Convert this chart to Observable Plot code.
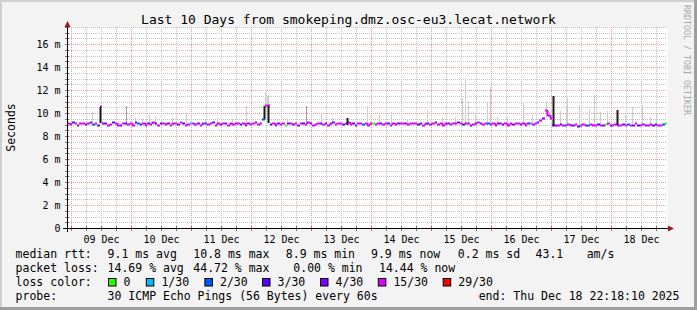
<!DOCTYPE html>
<html><head><meta charset="utf-8">
<script src="https://cdn.jsdelivr.net/npm/d3@7"></script>
<script src="https://cdn.jsdelivr.net/npm/@observablehq/plot@0.6"></script>
<style>
html,body{margin:0;padding:0;background:#f3f3f3;}
#chart svg{display:block;}
</style></head><body><div id="chart"></div>
<script>
// ---------- data ----------
const title = "Last 10 Days from smokeping.dmz.osc-eu3.lecat.network";
const yLabel = "Seconds";
const credit = "RRDTOOL / TOBI OETIKER";
const startTime = Date.UTC(2025, 11, 8, 22, 18, 10);
const endTime = Date.UTC(2025, 11, 18, 22, 18, 10);
const yTicks = [0, 2, 4, 6, 8, 10, 12, 14, 16];
const dayLabels = ["09 Dec","10 Dec","11 Dec","12 Dec","13 Dec","14 Dec","15 Dec","16 Dec","17 Dec","18 Dec"];

// hourly median rtt (ms)
const median = [
  9.15, 9.05, 9.2, 9.1, 9.0, 9.1, 9.15, 9.05, 9.1, 9.2,
  9.05, 9.1, 9.0, 10.6, 9.1, 9.15, 9.0, 9.05, 9.2, 9.1,
  9.0, 8.95, 9.1, 9.15, 9.05, 9.1, 9.0, 9.2, 9.1, 9.05,
  9.15, 9.0, 9.1, 9.05, 9.2, 9.1, 9.0, 9.1, 9.15, 9.05,
  9.1, 9.0, 9.15, 9.1, 9.05, 9.2, 9.1, 9.0, 9.05, 9.1,
  9.15, 9.05, 9.1, 9.0, 9.1, 9.15, 9.05, 9.1, 9.2, 9.0,
  9.1, 9.05, 9.15, 9.1, 9.0, 9.1, 9.05, 9.15, 9.1, 9.05,
  9.1, 9.0, 9.15, 9.05, 9.1, 9.2, 9.05, 9.1, 9.5, 10.7,
  10.7, 9.05, 9.1, 9.0, 9.15, 9.05, 9.1, 9.0, 9.1, 9.15,
  9.05, 9.1, 9.0, 9.15, 9.1, 9.05, 9.2, 9.1, 9.0, 9.05,
  9.1, 9.15, 9.05, 9.1, 9.0, 9.1, 9.2, 9.05, 9.1, 9.15,
  9.05, 9.1, 9.2, 9.05, 9.1, 9.0, 9.1, 9.15, 9.05, 9.1,
  9.0, 9.1, 9.15, 9.05, 9.1, 9.1, 9.05, 9.15, 9.1, 9.0,
  9.1, 9.05, 9.1, 9.15, 9.1, 9.1, 9.05, 9.1, 9.15, 9.1,
  9.05, 9.1, 9.0, 9.1, 9.15, 9.05, 9.1, 9.2, 9.05, 9.1,
  9.0, 9.1, 9.15, 9.05, 9.1, 9.15, 9.2, 9.1, 9.05, 9.15,
  9.1, 9.0, 9.05, 9.1, 9.2, 9.1, 9.05, 9.1, 9.15, 9.05,
  9.1, 9.0, 9.1, 9.15, 9.05, 9.1, 9.0, 9.1, 9.05, 9.15,
  9.1, 9.05, 9.1, 9.0, 9.15, 9.1, 9.05, 9.15, 9.2, 9.4,
  9.6, 10.3, 9.8, 9.6, 9.0, 8.95, 9.0, 9.05, 8.95, 9.0,
  9.05, 8.95, 9.0, 9.05, 8.9, 9.0, 9.05, 8.95, 9.0, 9.05,
  8.95, 9.0, 9.05, 8.95, 9.0, 9.05, 9.1, 8.95, 9.0, 9.05,
  9.0, 8.95, 9.05, 9.0, 9.05, 8.95, 9.0, 9.1, 9.0, 8.95,
  9.05, 9.0, 8.95, 9.05, 9.0, 9.05, 8.95, 9.0, 9.05, 9.1
];
// hourly loss level code: 0,1,2,3,4 -> n/30, 5 -> 15/30, 9 -> 29/30
const lossCodes = [
  "5535455453","2545445535","5453555424","5545535455","4555453551","5545525545",
  "5354555453","5545545525","5355455045","5545355455","5453554555","4555345525",
  "5505545535","5545545555","3355455455","5545554535","5354545525","5545355545",
  "5455415545","4555345452","5545355425","5535405455","5545254535","5455345520"
].join("");
const lossKeys = ["0","1","2","3","4","5","9"];
const lossNames = ["0","1/30","2/30","3/30","4/30","15/30","29/30"];
const lossColors = ["#26ff00","#00b8ff","#0059ff","#5e00ff","#7e00ff","#dd00ff","#ff0000"];

// smoke (ping spread): hour offset from start, low, high (ms), shade l/m/d
const smokeHour = [10, 23.7, 27, 30, 32.8, 35, 37.5, 42, 47.6, 55, 60, 66, 71.6, 79.2, 79.8, 80.4,
  13.2, 78.9, 80.5, 88, 95.6, 101.6, 106, 112, 119.9, 124.8, 129.6, 136, 143.9, 150, 155,
  158, 159.2, 160.4, 163, 167.9, 169.1, 172, 176, 182.4, 186, 191.5, 194.4, 197, 199.5, 200,
  204.8, 208.8, 210.8, 213, 215.9, 220, 223, 226, 230, 233, 235.5];
const smokeLo = [9.0, 9.0, 9.0, 9.0, 9.0, 9.0, 9.0, 9.0, 9.0, 9.0, 9.0, 9.0, 9.0, 10.6, 10.6, 10.6,
  9.1, 9.5, 9.1, 9.0, 9.0, 9.0, 9.0, 9.0, 9.0, 9.0, 9.0, 9.0, 9.0, 9.0, 9.0,
  9.0, 9.0, 9.0, 9.0, 9.0, 9.0, 9.0, 9.0, 9.0, 9.0, 9.6, 9.0, 9.0, 9.0, 9.0,
  9.0, 9.0, 9.0, 9.0, 9.0, 9.0, 9.0, 9.0, 9.0, 9.0, 9.0];
const smokeHi = [10.1, 10.65, 9.6, 9.5, 9.8, 9.7, 9.5, 9.6, 10.0, 9.5, 9.6, 9.5, 10.6, 11.8, 11.4, 11.6,
  10.5, 10.6, 10.6, 9.6, 10.65, 10.0, 9.6, 9.6, 10.6, 9.8, 10.1, 9.5, 10.3, 9.6, 9.7,
  11.3, 13.1, 11.1, 9.8, 11.0, 12.3, 9.7, 9.7, 11.0, 9.8, 11.0, 11.5, 10.2, 10.7, 11.3,
  10.65, 10.3, 11.6, 10.1, 10.2, 10.3, 9.8, 10.5, 10.7, 9.7, 9.9];
const smokeShade = "lmllllllllllllllddd" + "lmlldllllllll" + "lllllllllldllll" + "lllldllllll";

// legend texts
const rttStats = ["median rtt:", "9.1 ms avg", "10.8 ms max", "8.9 ms min", "9.9 ms now", "0.2 ms sd", "43.1", "am/s"];
const lossStats = ["packet loss:", "14.69 % avg", "44.72 % max", "0.00 % min", "14.44 % now"];
const lossTitle = "loss color:";
const probeTexts = ["probe:", "30 ICMP Echo Pings (56 Bytes) every 60s", "end: Thu Dec 18 22:18:10 2025"];

// ---------- build ----------
const HOUR = 3600e3;
const shadeColor = {l: "#cdcdcd", m: "#a0a0a0", d: "#1a1a1a"};
const segs = median.map((v, i) => ({
  t0: new Date(startTime + i * HOUR), t1: new Date(startTime + (i + 1) * HOUR), v,
  c: lossColors[lossKeys.indexOf(lossCodes[i])]
}));
const conns = segs.slice(1).map((s, k) => ({...s, prev: median[k], same: lossCodes[k] === lossCodes[k + 1]})).filter(d => d.same);
const smoke = smokeHour.map((h, i) => ({t: new Date(startTime + h * HOUR), lo: smokeLo[i], hi: smokeHi[i], c: shadeColor[smokeShade[i]], w: smokeShade[i] === "d" ? 2 : 1}));
const smokeLight = smoke.filter((d, i) => smokeShade[i] !== "d");
const smokeDark = smoke.filter((d, i) => smokeShade[i] === "d");

const domain = [new Date(startTime), new Date(endTime)];
const days = d3.utcDay.range(domain[0], domain[1]);
const sixHours = d3.utcHour.every(6).range(domain[0], domain[1]).filter(d => d.getUTCHours() !== 0);
const noons = days.map(d => d3.utcHour.offset(d, 12));
const minorY = d3.range(0.5, 17.51, 0.5).filter(v => v % 2 !== 0);
const majorY = yTicks.filter(v => v > 0);

const plot = Plot.plot({
  width: 697, height: 310,
  marginLeft: 67, marginRight: 30, marginTop: 27, marginBottom: 82,
  style: {background: "transparent", fontFamily: "DejaVu Sans Mono", fontSize: "10px", color: "#000", overflow: "visible"},
  x: {type: "utc", domain, round: true},
  y: {domain: [0, 17.5], round: true},
  marks: [
    Plot.frame({fill: "#ffffff", stroke: "none"}),
    Plot.ruleY(minorY, {stroke: "#c4c4c4", strokeDasharray: "1,1"}),
    Plot.ruleX(sixHours, {stroke: "#c4c4c4", strokeDasharray: "1,1"}),
    Plot.ruleY(majorY, {stroke: "#f09a9a", strokeDasharray: "1,1"}),
    Plot.ruleX(days, {stroke: "#f09a9a", strokeDasharray: "1,1"}),
    Plot.ruleX(smokeLight, {x: "t", y1: "lo", y2: "hi", stroke: "c", strokeWidth: "w"}),
    Plot.ruleY(segs, {x1: "t0", x2: "t1", y: "v", stroke: "c", strokeWidth: 2}),
    Plot.ruleX(conns, {x: "t0", y1: "prev", y2: "v", stroke: "c", strokeWidth: 2}),
    Plot.ruleX(smokeDark, {x: "t", y1: "lo", y2: "hi", stroke: "c", strokeWidth: "w"}),
    Plot.axisY({ticks: yTicks, tickSize: 0, tickPadding: 7, label: null,
      tickFormat: d => d === 0 ? "0" : `${d} m`}),
    Plot.axisX({ticks: noons, tickSize: 0, tickPadding: 7, label: null,
      tickFormat: (d, i) => dayLabels[i]})
  ]
});
document.getElementById("chart").appendChild(plot);

const xs = plot.scale("x"), ys = plot.scale("y");
const svg = d3.select(plot);
const X0 = xs.apply(domain[0]), X1 = xs.apply(domain[1]);
const Y0 = ys.apply(0), YT = ys.apply(17.5);

// tick marks on axes
const g = svg.append("g").attr("shape-rendering", "crispEdges");
for (const v of minorY.concat(majorY)) {
  const yy = ys.apply(v) + 0.5;
  g.append("line").attr("x1", X0 - 2).attr("x2", X0 + 2).attr("y1", yy).attr("y2", yy)
    .attr("stroke", majorY.includes(v) ? "#d06060" : "#777");
}
for (const d of sixHours.concat(days)) {
  const xx = xs.apply(d) + 0.5;
  g.append("line").attr("x1", xx).attr("x2", xx).attr("y1", Y0 - 2).attr("y2", Y0 + 3)
    .attr("stroke", days.includes(d) ? "#d06060" : "#777");
}
// axis lines
g.append("line").attr("x1", X0 - 4).attr("x2", X1 + 2).attr("y1", Y0 + 0.5).attr("y2", Y0 + 0.5).attr("stroke", "#000");
g.append("line").attr("x1", X0 + 0.5).attr("x2", X0 + 0.5).attr("y1", Y0 + 4).attr("y2", YT - 2).attr("stroke", "#000");
// arrows
svg.append("path").attr("d", `M${X1 + 1},${Y0 - 2.5}L${X1 + 7},${Y0 + 0.5}L${X1 + 1},${Y0 + 3.5}Z`).attr("fill", "#9b1c1c");
svg.append("path").attr("d", `M${X0 - 2.5},${YT}L${X0 + 0.5},${YT - 6}L${X0 + 3.5},${YT}Z`).attr("fill", "#9b1c1c");

const mono = "DejaVu Sans Mono";
// title
svg.append("text").attr("x", 348.5).attr("y", 23.5).attr("text-anchor", "middle")
  .attr("font-family", mono).attr("font-size", 13).attr("fill", "#000").text(title);
// y label
svg.append("text").attr("transform", "translate(15,127.5) rotate(-90)").attr("text-anchor", "middle")
  .attr("font-family", mono).attr("font-size", 11.5).attr("fill", "#000").text(yLabel);
// credit
svg.append("text").attr("transform", "translate(683.5,5) rotate(90)").attr("text-anchor", "start")
  .attr("font-family", mono).attr("font-size", 8.3).attr("fill", "#a8a8a8").text(credit);

// legend
const leg = svg.append("g").attr("font-family", mono).attr("font-size", 11.5).attr("fill", "#000").attr("text-anchor", "start");
const put = (x, y, s) => leg.append("text").attr("x", x).attr("y", y).attr("text-anchor", "start").style("white-space", "pre").text(s);
[15.6, 107.6, 193.3, 285.8, 371, 457.8, 535.6, 586.7].forEach((x, i) => put(x, 258, rttStats[i]));
[15.6, 107.6, 193.3, 293.3, 379].forEach((x, i) => put(x, 272, lossStats[i]));
put(15.6, 286, lossTitle);
[108, 145.8, 204.4, 262, 320, 377.8, 442.7].forEach((x, i) => {
  leg.append("rect").attr("x", x + 0.5).attr("y", 278.5).attr("width", 7.5).attr("height", 7.5)
    .attr("fill", lossColors[i]).attr("stroke", "#000").attr("stroke-width", 1);
  put(x + 15.6, 286, lossNames[i]);
});
[15.6, 107.6, 478.7].forEach((x, i) => put(x, 300, probeTexts[i]));

// border
const b = svg.append("g").attr("shape-rendering", "crispEdges");
b.append("rect").attr("x", 0).attr("y", 0).attr("width", 697).attr("height", 2).attr("fill", "#cfcfcf");
b.append("rect").attr("x", 0).attr("y", 0).attr("width", 2).attr("height", 310).attr("fill", "#cfcfcf");
b.append("rect").attr("x", 694).attr("y", 0).attr("width", 3).attr("height", 310).attr("fill", "#9e9e9e");
b.append("rect").attr("x", 0).attr("y", 307).attr("width", 697).attr("height", 3).attr("fill", "#9e9e9e");
</script></body></html>
